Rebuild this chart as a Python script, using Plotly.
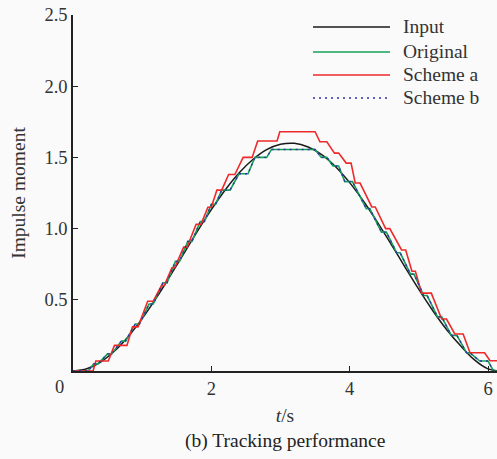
import plotly.graph_objects as go

# Input (smooth reference)
t_input = [0.0, 0.2, 0.4, 0.6, 0.8, 1.0, 1.2, 1.4, 1.6, 1.8, 2.0, 2.2, 2.4, 2.6, 2.8, 3.0,
           3.2, 3.4, 3.6, 3.8, 4.0, 4.2, 4.4, 4.6, 4.8, 5.0, 5.2, 5.4, 5.6, 5.8, 6.0, 6.2]
v_input = [0.0, 0.016, 0.063, 0.140, 0.243, 0.368, 0.510, 0.664, 0.823, 0.982, 1.133, 1.271,
           1.390, 1.485, 1.554, 1.592, 1.599, 1.573, 1.518, 1.433, 1.323, 1.192, 1.046, 0.890,
           0.730, 0.573, 0.425, 0.292, 0.179, 0.080, 0.015, 0.0]

# Original: hold intervals (start, end) and held values
orig_t0 = [0.00, 0.30, 0.50, 0.70, 0.90, 1.10, 1.30, 1.48, 1.66, 1.84, 2.00, 2.15, 2.40, 2.63,
           2.87, 3.59, 3.76, 3.93, 4.24, 4.46, 4.68, 4.88, 5.07, 5.27, 5.47, 5.69, 5.88, 6.08]
orig_t1 = [0.22, 0.36, 0.56, 0.76, 0.96, 1.16, 1.36, 1.54, 1.72, 1.90, 2.06, 2.27, 2.53, 2.80,
           3.50, 3.67, 3.84, 4.04, 4.29, 4.53, 4.73, 4.93, 5.12, 5.33, 5.55, 5.74, 6.00, 6.20]
orig_v = [0.00, 0.05, 0.12, 0.21, 0.33, 0.47, 0.62, 0.77, 0.91, 1.05, 1.17, 1.27, 1.385, 1.50,
          1.556, 1.50, 1.44, 1.33, 1.14, 0.975, 0.83, 0.68, 0.53, 0.38, 0.25, 0.128, 0.07, 0.0]

# Scheme a
a_t0 = [0.00, 0.33, 0.60, 0.86, 1.08, 1.28, 1.43, 1.60, 1.78, 1.95, 2.08, 2.25, 2.46, 2.67,
        2.99, 3.57, 3.78, 3.95, 4.08, 4.32, 4.52, 4.75, 4.90, 5.04, 5.33, 5.52, 5.74, 6.03]
a_t1 = [0.29, 0.51, 0.78, 0.94, 1.16, 1.32, 1.47, 1.65, 1.85, 2.00, 2.15, 2.34, 2.59, 2.95,
        3.50, 3.67, 3.84, 4.02, 4.15, 4.37, 4.58, 4.81, 4.95, 5.18, 5.40, 5.64, 5.95, 6.20]
a_v = [0.00, 0.07, 0.18, 0.31, 0.49, 0.60, 0.725, 0.87, 1.03, 1.15, 1.27, 1.38, 1.50, 1.615,
       1.68, 1.61, 1.53, 1.46, 1.32, 1.152, 1.00, 0.85, 0.70, 0.547, 0.365, 0.26, 0.128, 0.072]

# Scheme b (almost coincides with Original)
b_t0 = [0.00, 0.30, 0.50, 0.70, 0.90, 1.10, 1.30, 1.48, 1.66, 1.84, 2.00, 2.15, 2.40, 2.63,
        2.87, 3.59, 3.76, 3.93, 4.24, 4.46, 4.68, 4.88, 5.07, 5.27, 5.47, 5.69, 5.88, 6.08]
b_t1 = [0.22, 0.36, 0.56, 0.76, 0.96, 1.16, 1.36, 1.54, 1.72, 1.90, 2.06, 2.27, 2.53, 2.80,
        3.50, 3.67, 3.84, 4.04, 4.29, 4.53, 4.73, 4.93, 5.12, 5.33, 5.55, 5.74, 6.00, 6.20]
b_v = [0.00, 0.05, 0.12, 0.21, 0.33, 0.47, 0.62, 0.77, 0.91, 1.05, 1.17, 1.27, 1.385, 1.50,
       1.556, 1.50, 1.44, 1.33, 1.14, 0.975, 0.83, 0.68, 0.53, 0.38, 0.25, 0.128, 0.07, 0.0]

series_names = ["Input", "Original", "Scheme a", "Scheme b"]
series_colors = ["#1a1a1a", "#14a05a", "#ee2a2a", "#3030a8"]
series_dash = ["solid", "solid", "solid", "2px,4px"]


def hold_path(t0, t1, v):
    xs, ys = [], []
    for a, b, c in zip(t0, t1, v):
        xs += [a, b]
        ys += [c, c]
    return xs, ys


FONT = "Liberation Serif"
FS_TICK = 18.5
FS = 19.5
W, H = 497, 459
ML, MR, MT, MB = 73, 0, 15, 88
PW, PH = W - ML - MR, H - MT - MB

fig = go.Figure()
fig.add_trace(go.Scatter(x=t_input, y=v_input, mode="lines", name=series_names[0],
                         line=dict(color=series_colors[0], width=1.5, shape="spline")))
ox, oy = hold_path(orig_t0, orig_t1, orig_v)
fig.add_trace(go.Scatter(x=ox, y=oy, mode="lines", name=series_names[1],
                         line=dict(color=series_colors[1], width=1.6)))
ax, ay = hold_path(a_t0, a_t1, a_v)
fig.add_trace(go.Scatter(x=ax, y=ay, mode="lines", name=series_names[2],
                         line=dict(color=series_colors[2], width=1.6)))
bx, by = hold_path(b_t0, b_t1, b_v)
fig.add_trace(go.Scatter(x=bx, y=by, mode="lines", name=series_names[3],
                         line=dict(color=series_colors[3], width=1.4, dash=series_dash[3])))


def px_x(p):
    return (p - ML) / PW


def px_y(p):
    return (H - MB - p) / PH


# legend drawn as decoration (lines + text) to match the compact layout
shapes = []
annotations = []
legend_rows = [27, 52, 75, 98]
for name, col, dash, ry in zip(series_names, series_colors, series_dash, legend_rows):
    shapes.append(dict(type="line", xref="paper", yref="paper",
                       x0=px_x(313), x1=px_x(390), y0=px_y(ry), y1=px_y(ry),
                       line=dict(color=col, width=1.6 if dash == "solid" else 1.4, dash=dash)))
    annotations.append(dict(text=name, xref="paper", yref="paper", x=px_x(401), y=px_y(ry),
                            xanchor="left", yanchor="middle", showarrow=False,
                            font=dict(family=FONT, size=FS, color="#333333")))

annotations += [
    dict(text="0", x=0, y=0, xref="x", yref="y", xanchor="right", yanchor="top",
         xshift=-7, yshift=-4, showarrow=False, font=dict(family=FONT, size=FS_TICK)),
    dict(text="(b) Tracking performance", x=0.5, y=-0.16, xref="paper", yref="paper",
         xanchor="center", yanchor="top", showarrow=False,
         font=dict(family=FONT, size=FS, color="#222")),
]

fig.update_layout(
    width=W, height=H,
    margin=dict(l=ML, r=MR, t=MT, b=MB),
    paper_bgcolor="#fafafa", plot_bgcolor="#fafafa",
    font=dict(family=FONT, size=FS_TICK, color="#333333"),
    showlegend=False,
    xaxis=dict(range=[0, 6.13], tickvals=[2, 4, 6], ticktext=["2", "4", "6"],
               ticks="inside", ticklen=5, tickcolor="#222", showgrid=False, zeroline=False,
               showline=True, linecolor="#222", linewidth=1.5,
               title=dict(text="<i>t</i>/s", font=dict(family=FONT, size=FS), standoff=10)),
    yaxis=dict(range=[0, 2.5], tickvals=[0.5, 1.0, 1.5, 2.0, 2.5],
               ticktext=["0.5", "1.0", "1.5", "2.0", "2.5"],
               ticks="inside", ticklen=5, tickcolor="#222", showgrid=False, zeroline=False,
               showline=True, linecolor="#222", linewidth=1.5,
               title=dict(text="Impulse moment", font=dict(family=FONT, size=FS), standoff=14)),
    shapes=shapes,
    annotations=annotations,
)

fig.write_html("out.html")
